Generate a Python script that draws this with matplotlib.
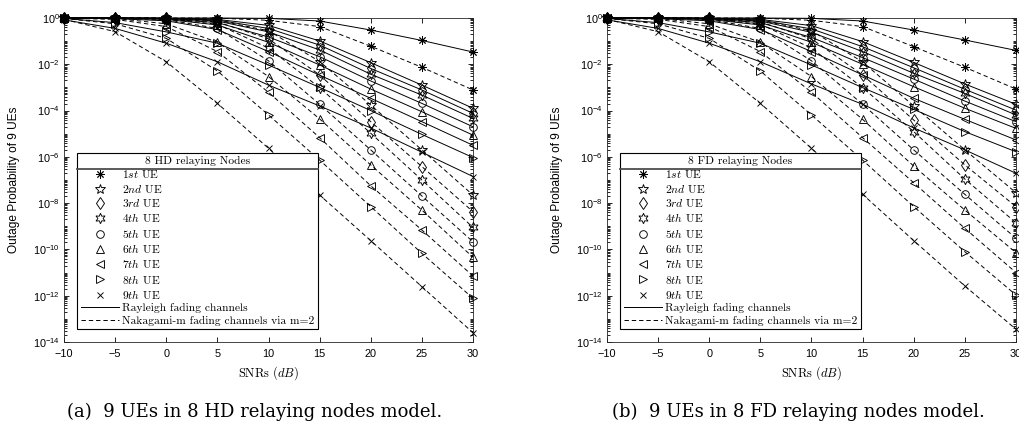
import numpy as np
import matplotlib
matplotlib.use('Agg')
import matplotlib.pyplot as plt
from matplotlib.lines import Line2D
from matplotlib.font_manager import FontProperties
from matplotlib.ticker import FixedLocator, LogLocator, FuncFormatter, NullFormatter

plt.rcParams['font.family'] = ['Liberation Sans', 'DejaVu Sans']
plt.rcParams['mathtext.fontset'] = 'custom'
plt.rcParams['mathtext.rm'] = 'Liberation Sans'
plt.rcParams['mathtext.it'] = 'Liberation Sans:italic'
plt.rcParams['mathtext.bf'] = 'Liberation Sans:bold'

# ---------------- data (log10 of outage probability) ----------------
snr_db = [-10, -5, 0, 5, 10, 15, 20, 25, 30]

ue_labels = [r'$1st$ UE', r'$2nd$ UE', r'$3rd$ UE', r'$4th$ UE', r'$5th$ UE',
             r'$6th$ UE', r'$7th$ UE', r'$8th$ UE', r'$9th$ UE']

hd_rayleigh_log10 = [
    [0.00, 0.00, 0.00, 0.00, -0.015, -0.13, -0.52, -0.97, -1.47],
    [0.00, 0.00, -0.01, -0.06, -0.32, -0.99, -1.93, -2.90, -3.90],
    [0.00, 0.00, -0.01, -0.09, -0.45, -1.17, -2.18, -3.11, -4.12],
    [0.00, 0.00, -0.02, -0.13, -0.60, -1.38, -2.43, -3.33, -4.34],
    [0.00, -0.01, -0.04, -0.20, -0.82, -1.67, -2.72, -3.69, -4.70],
    [0.00, -0.01, -0.06, -0.30, -1.05, -2.03, -3.07, -4.05, -5.06],
    [0.00, -0.03, -0.12, -0.50, -1.45, -2.47, -3.47, -4.48, -5.50],
    [-0.02, -0.20, -0.60, -1.09, -2.03, -3.00, -4.00, -5.03, -6.03],
    [-0.08, -0.45, -1.09, -1.89, -2.90, -3.80, -4.75, -5.80, -6.85],
]
hd_nakagami_log10 = [
    [0.00, 0.00, 0.00, -0.005, -0.10, -0.37, -1.22, -2.13, -3.11],
    [0.00, 0.00, -0.01, -0.10, -0.55, -1.88, -3.76, -5.70, -7.65],
    [0.00, 0.00, -0.02, -0.17, -0.90, -2.46, -4.48, -6.42, -8.37],
    [0.00, -0.01, -0.03, -0.27, -1.30, -3.01, -4.98, -7.00, -9.05],
    [0.00, -0.01, -0.07, -0.45, -1.85, -3.73, -5.70, -7.69, -9.67],
    [0.00, -0.02, -0.25, -1.05, -2.53, -4.36, -6.35, -8.30, -10.34],
    [-0.01, -0.06, -0.37, -1.45, -3.21, -5.17, -7.25, -9.16, -11.15],
    [-0.02, -0.25, -0.88, -2.29, -4.19, -6.14, -8.15, -10.17, -12.11],
    [-0.06, -0.59, -1.89, -3.69, -5.63, -7.65, -9.62, -11.61, -13.60],
]
fd_rayleigh_log10 = [
    [0.00, 0.00, 0.00, 0.00, -0.015, -0.13, -0.52, -0.95, -1.40],
    [0.00, 0.00, -0.01, -0.06, -0.33, -1.02, -1.92, -2.85, -3.73],
    [0.00, 0.00, -0.01, -0.09, -0.47, -1.24, -2.15, -3.08, -3.98],
    [0.00, 0.00, -0.02, -0.13, -0.62, -1.45, -2.39, -3.26, -4.19],
    [0.00, -0.01, -0.04, -0.20, -0.84, -1.71, -2.64, -3.59, -4.48],
    [0.00, -0.01, -0.06, -0.30, -1.05, -2.00, -2.97, -3.90, -4.77],
    [0.00, -0.03, -0.12, -0.50, -1.45, -2.46, -3.47, -4.38, -5.27],
    [-0.02, -0.20, -0.60, -1.09, -2.03, -3.01, -3.95, -4.91, -5.78],
    [-0.08, -0.45, -1.09, -1.89, -2.85, -3.73, -4.75, -5.70, -6.71],
]
fd_nakagami_log10 = [
    [0.00, 0.00, 0.00, -0.005, -0.10, -0.37, -1.24, -2.13, -3.07],
    [0.00, 0.00, -0.01, -0.10, -0.55, -1.90, -3.80, -5.70, -7.55],
    [0.00, 0.00, -0.02, -0.17, -0.90, -2.46, -4.41, -6.35, -8.15],
    [0.00, -0.01, -0.03, -0.27, -1.30, -3.01, -4.91, -6.96, -8.85],
    [0.00, -0.01, -0.07, -0.45, -1.85, -3.73, -5.70, -7.62, -9.52],
    [0.00, -0.02, -0.25, -1.05, -2.53, -4.38, -6.40, -8.30, -10.14],
    [-0.01, -0.06, -0.37, -1.45, -3.21, -5.17, -7.12, -9.09, -11.00],
    [-0.02, -0.25, -0.88, -2.29, -4.19, -6.14, -8.15, -10.10, -11.97],
    [-0.06, -0.59, -1.89, -3.69, -5.63, -7.62, -9.62, -11.58, -13.45],
]

y_tick_exponents = [0, -2, -4, -6, -8, -10, -12, -14]
x_ticks = [-10, -5, 0, 5, 10, 15, 20, 25, 30]

panel_titles = ['8 HD relaying Nodes', '8 FD relaying Nodes']
captions = ['(a)  9 UEs in 8 HD relaying nodes model.',
            '(b)  9 UEs in 8 FD relaying nodes model.']
rayleigh_label = 'Rayleigh fading channels'
nakagami_label = 'Nakagami-m fading channels via m=2'
ylabel_text = 'Outage Probability of 9 UEs'
xlabel_text = r'SNRs ($dB$)'

# ---------------- styles ----------------
marker_styles = [(8, 2, 0), '*', 'd', (6, 1, 0), 'o', '^', '<', '>', 'x']
marker_sizes = [6, 7, 6, 7.5, 5.5, 6, 6, 6, 5]
LW = 0.7
DASH = (4.5, 3.0)

fig = plt.figure(figsize=(10.2, 4.24), dpi=100)
W, H = 1020.0, 424.0
ax_px = [(64, 18, 473, 342), (607, 18, 1016, 342)]

cm_prop = FontProperties(family='cmr10', size=8.3, math_fontfamily='cm')
cm_title = FontProperties(family='cmr10', size=8.3, math_fontfamily='cm')
cm_xlabel = FontProperties(family='cmr10', size=9.0, math_fontfamily='cm')

datasets = [(hd_rayleigh_log10, hd_nakagami_log10), (fd_rayleigh_log10, fd_nakagami_log10)]
axes = []
legends = []
for p, (ray, nak) in enumerate(datasets):
    x0, y0, x1, y1 = ax_px[p]
    ax = fig.add_axes([x0 / W, 1 - y1 / H, (x1 - x0) / W, (y1 - y0) / H])
    axes.append(ax)
    for k in range(9):
        ax.plot(snr_db, 10.0 ** np.array(ray[k]), color='k', lw=LW, ls='-',
                marker=marker_styles[k], ms=marker_sizes[k], mfc='none', mec='k',
                mew=0.65, clip_on=False, zorder=3)
        ax.plot(snr_db, 10.0 ** np.array(nak[k]), color='k', lw=LW, ls='--',
                dashes=DASH, marker=marker_styles[k], ms=marker_sizes[k], mfc='none',
                mec='k', mew=0.65, clip_on=False, zorder=3)
    ax.set_yscale('log')
    ax.set_xlim(-10, 30)
    ax.set_ylim(1e-14, 1)
    ax.xaxis.set_major_locator(FixedLocator(x_ticks))
    ax.yaxis.set_major_locator(FixedLocator([10.0 ** e for e in y_tick_exponents]))
    ax.yaxis.set_major_formatter(FuncFormatter(
        lambda v, pos: r'$10^{%d}$' % int(round(np.log10(v)))))
    ax.yaxis.set_minor_locator(LogLocator(base=10, subs=np.arange(1, 10) * 1.0, numticks=200))
    ax.yaxis.set_minor_formatter(NullFormatter())
    ax.tick_params(which='both', direction='in', top=True, right=True, labelsize=7.8,
                   width=0.6, colors='k')
    ax.tick_params(which='major', length=3.5, pad=3)
    ax.tick_params(which='minor', length=2.0)
    ax.tick_params(axis='x', pad=5)
    for s in ax.spines.values():
        s.set_linewidth(0.6)
        s.set_color('0.15')
    ax.set_ylabel(ylabel_text, fontsize=8.6)
    ax.yaxis.set_label_coords(-0.108, 0.5)
    ax.set_xlabel(xlabel_text, fontproperties=cm_xlabel)
    ax.xaxis.set_label_coords(0.5, -0.096)
    ax.xaxis.label.set_va('center')

    handles = [Line2D([], [], ls='none', marker=marker_styles[k], ms=marker_sizes[k],
                      mfc='none', mec='k', mew=0.65, color='k') for k in range(9)]
    handles.append(Line2D([], [], ls='-', color='k', lw=LW))
    handles.append(Line2D([], [], ls='--', dashes=DASH, color='k', lw=LW))
    labels = ue_labels + [rayleigh_label, nakagami_label]
    leg = ax.legend(handles, labels, loc='lower left', bbox_to_anchor=(0.032, 0.04),
                    borderaxespad=0, prop=cm_prop, title=panel_titles[p],
                    title_fontproperties=cm_title, frameon=True, fancybox=False,
                    edgecolor='k', framealpha=1, handlelength=3.3, handletextpad=0.3,
                    labelspacing=0.2, borderpad=0.3)
    leg.get_frame().set_linewidth(0.8)
    leg.set_zorder(10)
    legends.append(leg)

    fig.text((255 + (0 if p == 0 else 543)) / W, 1 - 412 / H, captions[p],
             ha='center', va='center', fontsize=13, family='DejaVu Serif')

fig.canvas.draw()
renderer = fig.canvas.get_renderer()
inv = fig.transFigure.inverted()
for leg in legends:
    fb = leg.get_frame().get_window_extent(renderer)
    tb = leg.get_title().get_window_extent(renderer)
    ysep = tb.y0 - 2.5
    (fx0, fy), (fx1, _) = inv.transform([(fb.x0, ysep), (fb.x1, ysep)])
    fig.add_artist(Line2D([fx0, fx1], [fy, fy], transform=fig.transFigure,
                          color='0.3', lw=1.3, zorder=20))

fig.savefig('out.png', dpi=100)
